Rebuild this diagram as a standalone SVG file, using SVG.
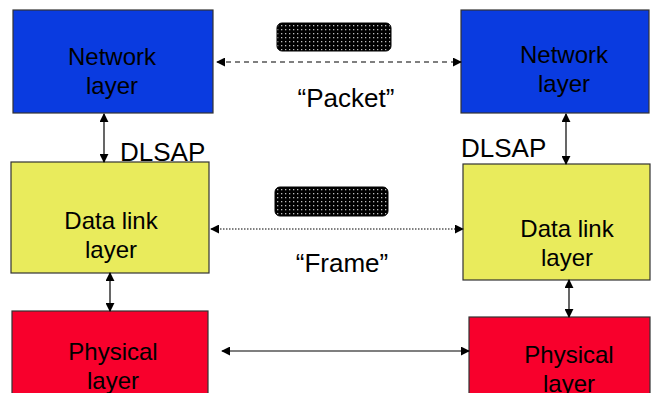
<svg xmlns="http://www.w3.org/2000/svg" width="652" height="393" viewBox="0 0 652 393">
  <style>
    .box { stroke: #333; stroke-width: 1.2; }
    .net { fill: #0a3be0; }
    .dl { fill: #e9eb5c; }
    .phy { fill: #f8002c; }
    .lbl { font-family: "Liberation Sans", Arial, sans-serif; font-size: 24px; fill: #000; text-anchor: middle; }
    .msg { font-family: "Liberation Sans", Arial, sans-serif; font-size: 26px; fill: #000; text-anchor: middle; }
    .sap { font-family: "Liberation Sans", Arial, sans-serif; font-size: 26px; fill: #000; }
    .ln { stroke: #000; stroke-width: 1.2; fill: none; }
  </style>
  <defs>
    <marker id="ah" viewBox="0 0 10 10" refX="9" refY="5" markerWidth="9" markerHeight="9" markerUnits="userSpaceOnUse" orient="auto-start-reverse">
      <path d="M0,0 L10,5 L0,10 z" fill="#000"/>
    </marker>
    <pattern id="dots" width="4" height="4" patternUnits="userSpaceOnUse">
      <rect width="4" height="4" fill="#000"/>
      <rect x="1" y="1" width="1.3" height="1.3" fill="#bbb"/>
    </pattern>
  </defs>

  <!-- layer boxes -->
  <g id="net-left">
    <rect class="box net" x="13" y="10" width="200" height="103"/>
    <text class="lbl" x="112" y="65">Network</text>
    <text class="lbl" x="112" y="94">layer</text>
  </g>
  <g id="net-right">
    <rect class="box net" x="461" y="10" width="188" height="103"/>
    <text class="lbl" x="564" y="63">Network</text>
    <text class="lbl" x="564" y="92">layer</text>
  </g>
  <g id="dl-left">
    <rect class="box dl" x="11" y="162" width="198" height="111"/>
    <text class="lbl" x="111" y="229">Data link</text>
    <text class="lbl" x="111" y="258">layer</text>
  </g>
  <g id="dl-right">
    <rect class="box dl" x="463" y="164" width="187" height="116"/>
    <text class="lbl" x="567" y="237">Data link</text>
    <text class="lbl" x="567" y="266">layer</text>
  </g>
  <g id="phy-left">
    <rect class="box phy" x="12" y="311" width="196" height="90"/>
    <text class="lbl" x="113" y="360">Physical</text>
    <text class="lbl" x="113" y="389">layer</text>
  </g>
  <g id="phy-right">
    <rect class="box phy" x="469" y="317" width="181" height="90"/>
    <text class="lbl" x="569" y="363">Physical</text>
    <text class="lbl" x="569" y="392">layer</text>
  </g>

  <!-- masked payloads -->
  <g id="packet-pill">
    <rect x="277" y="23" width="114" height="28" rx="5" fill="url(#dots)" stroke="#000" stroke-width="1"/>
  </g>
  <g id="frame-pill">
    <rect x="275" y="187" width="113" height="29" rx="5" fill="url(#dots)" stroke="#000" stroke-width="1"/>
  </g>

  <!-- labels -->
  <text class="msg" x="346" y="107">“Packet”</text>
  <text class="msg" x="342" y="272">“Frame”</text>
  <text class="sap" x="120" y="161">DLSAP</text>
  <text class="sap" x="461" y="157">DLSAP</text>

  <!-- connectors -->
  <g id="connectors">
    <line class="ln" x1="217" y1="62" x2="461" y2="62" stroke-dasharray="5,4" marker-start="url(#ah)" marker-end="url(#ah)"/>
    <line class="ln" x1="211" y1="229" x2="463" y2="229" stroke-dasharray="1.5,1.5" marker-start="url(#ah)" marker-end="url(#ah)"/>
    <line class="ln" x1="222" y1="351" x2="469" y2="351" marker-start="url(#ah)" marker-end="url(#ah)"/>
    <line class="ln" x1="104" y1="114" x2="104" y2="162" marker-start="url(#ah)" marker-end="url(#ah)"/>
    <line class="ln" x1="566" y1="114" x2="566" y2="164" marker-start="url(#ah)" marker-end="url(#ah)"/>
    <line class="ln" x1="110" y1="273" x2="110" y2="311" marker-start="url(#ah)" marker-end="url(#ah)"/>
    <line class="ln" x1="569" y1="280" x2="569" y2="317" marker-start="url(#ah)" marker-end="url(#ah)"/>
  </g>
</svg>
